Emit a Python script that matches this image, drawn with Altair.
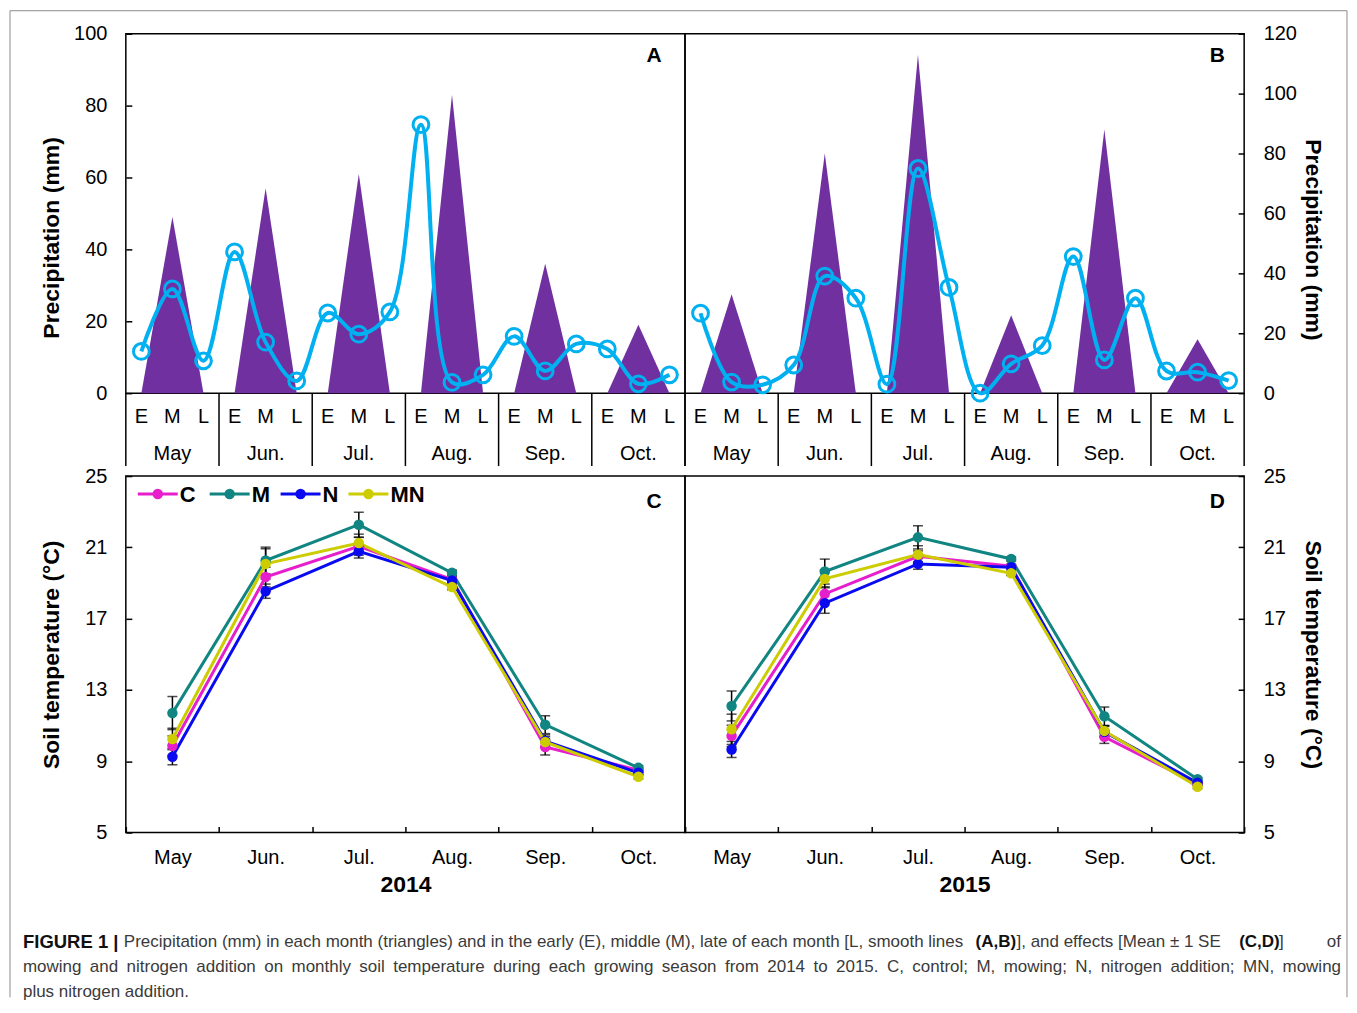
import altair as alt
import pandas as pd

# ---------------- data ----------------
months = ["May", "Jun.", "Jul.", "Aug.", "Sep.", "Oct."]
periods = ["E", "M", "L"]

# monthly precipitation (triangles), mm
tri_2014 = [49, 57, 61, 83, 36, 19]
tri_2015 = [33, 80, 113, 26, 88, 18]
# early / middle / late precipitation (smooth lines), mm
ten_2014 = [11.6, 29.0, 9.0, 39.3, 14.2, 3.4, 22.3, 16.4, 22.6,
            74.7, 3.0, 5.1, 15.8, 6.2, 13.7, 12.3, 2.6, 5.1]
ten_2015 = [26.7, 3.7, 2.8, 9.4, 39.1, 31.7, 3.0, 75.0, 35.3,
            0.0, 9.8, 15.9, 45.6, 11.1, 31.7, 7.4, 7.0, 4.2]

treatments = ["C", "M", "N", "MN"]
colors = ["#E61ECC", "#108581", "#0A0AF0", "#CCCC00"]

# soil temperature (mean) 2014
t14_C = [9.87, 19.33, 21.06, 19.20, 9.80, 8.50]
t14_M = [11.70, 20.26, 22.27, 19.57, 11.05, 8.63]
t14_N = [9.25, 18.54, 20.78, 19.14, 10.13, 8.35]
t14_MN = [10.25, 20.07, 21.24, 18.77, 10.08, 8.13]
# standard errors 2014
se14_C = [0.55, 0.55, 0.50, 0.15, 0.45, 0.12]
se14_M = [0.93, 0.75, 0.70, 0.15, 0.50, 0.12]
se14_N = [0.45, 0.40, 0.38, 0.15, 0.35, 0.12]
se14_MN = [0.60, 0.85, 0.50, 0.15, 0.30, 0.12]
# soil temperature (mean) 2015
t15_C = [10.42, 18.39, 20.50, 19.94, 10.37, 7.72]
t15_M = [12.10, 19.64, 21.56, 20.35, 11.52, 7.99]
t15_N = [9.66, 17.87, 20.07, 19.88, 10.65, 7.79]
t15_MN = [10.79, 19.23, 20.59, 19.54, 10.70, 7.57]
# standard errors 2015
se15_C = [0.60, 0.40, 0.30, 0.12, 0.37, 0.10]
se15_M = [0.84, 0.70, 0.65, 0.12, 0.52, 0.10]
se15_N = [0.45, 0.57, 0.30, 0.12, 0.30, 0.10]
se15_MN = [0.85, 0.50, 0.50, 0.12, 0.30, 0.10]

caption_1 = ["FIGURE 1 |",
             "Precipitation (mm) in each month (triangles) and in the early (E), middle (M), late of each month [L, smooth lines",
             "(A,B)", "], and effects [Mean \u00b1 1 SE", "(C,D)", "]", "of"]
caption_2 = ("mowing and nitrogen addition on monthly soil temperature during each growing season from 2014 to 2015. "
             "C, control; M, mowing; N, nitrogen addition; MN, mowing")
caption_3 = "plus nitrogen addition."

# ---------------- styles ----------------
PURPLE = "#7030A0"
CYAN = "#00B0F0"
FONT = "Liberation Sans"
W = 560
H_TOP = 360
H_BOT = 357
one = pd.DataFrame({"k": [0]})


def precip_panel(tri, ten, ymax, orient, letter, title_y, title_pad):
    n = len(months) * len(periods)
    tri_rows = []
    for i, (m, peak) in enumerate(zip(months, tri)):
        for j, v in enumerate([0, peak, 0]):
            tri_rows.append({"pos": 3 * i + j, "month": m, "mm": v})
    tri_df = pd.DataFrame(tri_rows)
    ten_df = pd.DataFrame({"pos": list(range(n)), "mm": ten,
                           "period": periods * len(months)})
    mon_df = pd.DataFrame({"pos": [3 * i + 1 for i in range(len(months))], "month": months})
    sep_df = pd.DataFrame({"pos": [3 * i - 0.5 for i in range(len(months) + 1)]})
    let_df = pd.DataFrame({"t": [letter]})

    xscale = alt.Scale(domain=[-0.5, n - 0.5], nice=False, zero=False)
    yscale = alt.Scale(domain=[0, ymax], nice=False)
    yaxis = alt.Axis(orient=orient, values=list(range(0, ymax + 1, 20)), tickSize=6, offset=-6,
                     tickWidth=1.5, domain=False, grid=False, labelPadding=19, labelFontSize=20,
                     labelOverlap=False,
                     title="Precipitation (mm)", titleFontSize=23, titleFontWeight="bold",
                     titlePadding=title_pad, titleY=title_y)
    x = alt.X("pos:Q", scale=xscale, axis=None)

    area = alt.Chart(tri_df).mark_area(color=PURPLE, opacity=1).encode(
        x=x, y=alt.Y("mm:Q", scale=yscale, axis=yaxis, stack=None), detail="month:N")
    line = alt.Chart(ten_df).mark_line(color=CYAN, strokeWidth=4, interpolate="catmull-rom").encode(
        x=x, y=alt.Y("mm:Q", scale=yscale))
    pts = alt.Chart(ten_df).mark_point(color=CYAN, filled=False, size=250, strokeWidth=3, opacity=1).encode(
        x=x, y=alt.Y("mm:Q", scale=yscale))
    seps = alt.Chart(sep_df).mark_rule(color="black", strokeWidth=1.5).encode(
        x=x, y=alt.value(H_TOP), y2=alt.value(H_TOP + 73))
    per = alt.Chart(ten_df).mark_text(fontSize=20, baseline="middle", color="black").encode(
        x=x, y=alt.value(H_TOP + 24), text="period:N")
    mon = alt.Chart(mon_df).mark_text(fontSize=20, baseline="middle", color="black").encode(
        x=x, y=alt.value(H_TOP + 61), text="month:N")
    let = alt.Chart(let_df).mark_text(fontSize=21, fontWeight="bold", color="black").encode(
        x=alt.value(W - 31 if letter == "A" else W - 27), y=alt.value(22), text="t:N")
    return alt.layer(area, line, pts, seps, per, mon, let).properties(width=W, height=H_TOP)


def temp_frame(series, ses):
    rows = []
    for t, vals, errs in zip(treatments, series, ses):
        for i, (m, v, e) in enumerate(zip(months, vals, errs)):
            rows.append({"trt": t, "month": m, "idx": i, "temp": v, "lo": v - e, "hi": v + e})
    return pd.DataFrame(rows)


def legend_layers():
    centers = [32, 104, 175, 243]
    out = []
    for t, c, cx in zip(treatments, colors, centers):
        out.append(alt.Chart(one).mark_rule(color=c, strokeWidth=3).encode(
            x=alt.value(cx - 20), x2=alt.value(cx + 20), y=alt.value(18)))
        out.append(alt.Chart(one).mark_point(filled=True, color=c, size=110, opacity=1).encode(
            x=alt.value(cx), y=alt.value(18)))
        out.append(alt.Chart(pd.DataFrame({"t": [t]})).mark_text(
            align="left", baseline="middle", fontSize=22, fontWeight="bold", color="black").encode(
            x=alt.value(cx + 22), y=alt.value(19), text="t:N"))
    return out


def temp_panel(df, orient, letter, year, title_pad, with_legend):
    xscale = alt.Scale(domain=months, type="band", paddingInner=0, paddingOuter=0)
    yscale = alt.Scale(domain=[5, 25], nice=False, zero=False)
    cscale = alt.Scale(domain=treatments, range=colors)
    xaxis = alt.Axis(tickBand="extent", ticks=True, tickSize=6, offset=-6, tickWidth=1.5,
                     domain=False, grid=False, labelAngle=0, labelPadding=25,
                     labelBaseline="middle", labelFontSize=20, title=year, titleFontSize=23,
                     titleFontWeight="bold", titlePadding=6)
    yaxis = alt.Axis(orient=orient, values=[5, 9, 13, 17, 21, 25], tickSize=6, offset=-6,
                     tickWidth=1.5, domain=False, grid=False, labelPadding=19, labelFontSize=20,
                     title="Soil temperature (\u00b0C)", titleFontSize=23, titleFontWeight="bold",
                     titlePadding=title_pad)
    x = alt.X("month:N", scale=xscale)

    err = alt.Chart(df).mark_rule(color="black", strokeWidth=1.5).encode(
        x=alt.X("month:N", scale=xscale, axis=xaxis),
        y=alt.Y("lo:Q", scale=yscale, axis=yaxis), y2="hi:Q")
    cap_lo = alt.Chart(df).mark_tick(color="black", size=10, thickness=1.5).encode(
        x=x, y=alt.Y("lo:Q", scale=yscale))
    cap_hi = alt.Chart(df).mark_tick(color="black", size=10, thickness=1.5).encode(
        x=x, y=alt.Y("hi:Q", scale=yscale))
    lines = alt.Chart(df).mark_line(strokeWidth=3).encode(
        x=x, y=alt.Y("temp:Q", scale=yscale),
        stroke=alt.Stroke("trt:N", scale=cscale, legend=None),
        order=alt.Order("idx:Q"))
    pts = alt.Chart(df).mark_point(filled=True, size=110, opacity=1).encode(
        x=x, y=alt.Y("temp:Q", scale=yscale),
        fill=alt.Fill("trt:N", scale=cscale, legend=None))
    let = alt.Chart(pd.DataFrame({"t": [letter]})).mark_text(
        fontSize=21, fontWeight="bold", color="black").encode(
        x=alt.value(W - 31 if letter == "C" else W - 27), y=alt.value(26), text="t:N")
    layers = [err, cap_lo, cap_hi, lines, pts, let]
    if with_legend:
        layers += legend_layers()
    return alt.layer(*layers).properties(width=W, height=H_BOT)


panel_a = precip_panel(tri_2014, ten_2014, 100, "left", "A", 204, 10)
panel_b = precip_panel(tri_2015, ten_2015, 120, "right", "B", 206, 4)
panel_c = temp_panel(temp_frame([t14_C, t14_M, t14_N, t14_MN], [se14_C, se14_M, se14_N, se14_MN]),
                     "left", "C", "2014", 21, True)
panel_d = temp_panel(temp_frame([t15_C, t15_M, t15_N, t15_MN], [se15_C, se15_M, se15_N, se15_MN]),
                     "right", "D", "2015", 15, False)


# ---------------- caption row and figure frame ----------------
CAP_SIZE = 17
CAP_COLOR = "#3a3a3a"


def cap_text(txt, xpos, ypos, bold=False, align="left", size=CAP_SIZE):
    return alt.Chart(pd.DataFrame({"t": [txt]})).mark_text(
        fontSize=size, fontWeight="bold" if bold else "normal", align=align, baseline="middle",
        color="#111111" if bold else CAP_COLOR).encode(
        x=alt.value(xpos), y=alt.value(ypos), text="t:N")


# justify the second caption line across the full text width (Arial metrics, 1/1000 em)
ARIAL = {" ": 278, "a": 556, "b": 556, "c": 500, "d": 556, "e": 556, "f": 278, "g": 556,
         "h": 556, "i": 222, "j": 222, "k": 500, "l": 222, "m": 833, "n": 556, "o": 556,
         "p": 556, "q": 556, "r": 333, "s": 500, "t": 278, "u": 556, "v": 500, "w": 722,
         "x": 500, "y": 500, "z": 500, "C": 722, "M": 833, "N": 722, ".": 278, ",": 278,
         ";": 278}
words2 = caption_2.split(" ")
widths2 = [sum(ARIAL.get(ch, 556) for ch in w) * CAP_SIZE / 1000 for w in words2]
LEFT, RIGHT = -103, 1217
gap2 = (RIGHT - LEFT - sum(widths2)) / (len(words2) - 1)
xs2 = []
cur = LEFT
for wd in widths2:
    xs2.append(cur)
    cur += wd + gap2
line2 = alt.Chart(pd.DataFrame({"word": words2, "px": xs2})).mark_text(
    fontSize=CAP_SIZE, align="left", baseline="middle", color=CAP_COLOR).encode(
    x=alt.X("px:Q", scale=None, axis=None), y=alt.value(52), text="word:N")

cap_layers = [
    cap_text(caption_1[0], -103, 27, True, size=18.5),
    cap_text(caption_1[1], -2, 27),
    cap_text(caption_1[2], 851, 27, True),
    cap_text(caption_1[3], 892, 27),
    cap_text(caption_1[4], 1115, 27, True),
    cap_text(caption_1[5], 1155, 27),
    cap_text(caption_1[6], 1217, 27, align="right"),
    line2,
    cap_text(caption_3, -103, 77),
]
FRAME = "#8c8c8c"
F_LEFT, F_RIGHT, F_TOP, F_BOT = -116, 1223, -906, 82
frame_left = alt.Chart(one).mark_rule(color=FRAME, strokeWidth=1).encode(
    x=alt.value(F_LEFT), y=alt.value(F_TOP), y2=alt.value(F_BOT))
frame_right = alt.Chart(one).mark_rule(color=FRAME, strokeWidth=1).encode(
    x=alt.value(F_RIGHT), y=alt.value(F_TOP), y2=alt.value(F_BOT))
frame_top = alt.Chart(one).mark_rule(color=FRAME, strokeWidth=1).encode(
    x=alt.value(F_LEFT), x2=alt.value(F_RIGHT), y=alt.value(F_TOP))

caption = alt.layer(*cap_layers, frame_left, frame_right, frame_top).properties(
    width=W, height=80, view=alt.ViewBackground(stroke="transparent"))

chart = alt.concat(
    panel_a, panel_b, panel_c, panel_d, caption,
    columns=2, spacing={"row": 83, "column": 0}, bounds="flush"
).resolve_scale(
    fill="independent", stroke="independent"
).properties(
    padding=0
).configure(
    font=FONT, background="white"
).configure_view(
    stroke="black", strokeWidth=1.5
).configure_axis(
    labelColor="black", titleColor="black", tickColor="black", labelFont=FONT, titleFont=FONT
)

chart.save("out.html", embed_options={"renderer": "svg", "actions": False})
